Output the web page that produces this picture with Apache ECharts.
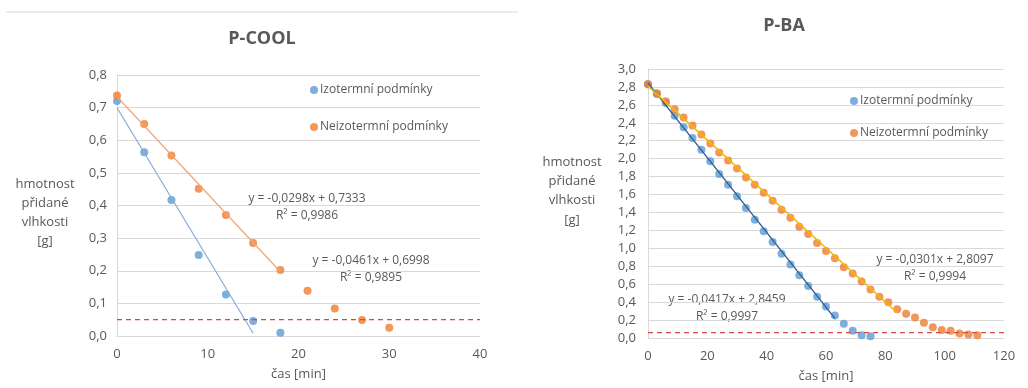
<!DOCTYPE html>
<html>
<head>
<meta charset="utf-8">
<script src="https://cdn.jsdelivr.net/npm/echarts@6/dist/echarts.min.js"></script>
<style>
  html, body { margin: 0; padding: 0; background: #fff; }
  #chart { width: 1028px; height: 388px; }
</style>
</head>
<body>
<div id="chart"></div>
<script>
const SERIES_NAMES = ['Izotermní podmínky', 'Neizotermní podmínky'];

// P-COOL
const coolTime = [0, 3, 6, 9, 12, 15, 18, 21, 24, 27, 30];
const coolIzo = [0.72, 0.563, 0.417, 0.248, 0.127, 0.046, 0.01];
const coolNeizo = [0.737, 0.65, 0.553, 0.451, 0.371, 0.285, 0.202, 0.139, 0.084, 0.049, 0.025];
const coolTrendIzo = { slope: -0.0461, intercept: 0.6998, from: 0, to: 15, label: 'y = -0,0461x + 0,6998', r2: 'R² = 0,9895' };
const coolTrendNeizo = { slope: -0.0298, intercept: 0.7333, from: 0, to: 18, label: 'y = -0,0298x + 0,7333', r2: 'R² = 0,9986' };
const coolLimit = 0.05;
const coolXMax = 40;

// P-BA
const baTime = [0, 3, 6, 9, 12, 15, 18, 21, 24, 27, 30, 33, 36, 39, 42, 45, 48, 51, 54, 57, 60,
  63, 66, 69, 72, 75, 78, 81, 84, 87, 90, 93, 96, 99, 102, 105, 108, 111];
const baIzo = [2.83, 2.72, 2.62, 2.48, 2.35, 2.23, 2.10, 1.97, 1.83, 1.71, 1.58, 1.45, 1.32, 1.19,
  1.07, 0.94, 0.82, 0.70, 0.58, 0.46, 0.35, 0.25, 0.16, 0.08, 0.03, 0.02];
const baNeizo = [2.83, 2.73, 2.64, 2.55, 2.46, 2.37, 2.27, 2.17, 2.07, 1.98, 1.89, 1.79, 1.71, 1.62,
  1.53, 1.43, 1.34, 1.24, 1.16, 1.06, 0.97, 0.89, 0.79, 0.72, 0.63, 0.54, 0.46, 0.40, 0.32, 0.27,
  0.23, 0.17, 0.12, 0.09, 0.08, 0.05, 0.04, 0.03];
const baTrendIzo = { slope: -0.0417, intercept: 2.8459, from: 0, to: 63, label: 'y = -0,0417x + 2,8459', r2: 'R² = 0,9997' };
const baTrendNeizo = { slope: -0.0301, intercept: 2.8097, from: 0, to: 84, label: 'y = -0,0301x + 2,8097', r2: 'R² = 0,9994' };
const baLimit = 0.06;
const baXMax = 120;

const yName = ['hmotnost', 'přidané', 'vlhkosti', '[g]'];
const xName = 'čas [min]';

const BLUE = '#5b9bd5';
const ORANGE = '#ed7d31';
const TEXT = '#595959';
const GRID = '#d9d9d9';
const FONT = '"Open Sans", "Noto Sans", sans-serif';

const pairs = (xs, ys) => ys.map((y, i) => [xs[i], y]);
const trend = (t) => [[t.from, t.intercept + t.slope * t.from], [t.to, t.intercept + t.slope * t.to]];
const comma = (d) => (v) => v.toFixed(d).replace('.', ',');

function axes(idx, max, interval, yMax, yInt, yMargin) {
  return {
    x: {
      type: 'value', gridIndex: idx, min: 0, max, interval,
      axisLine: { show: true, onZero: false, lineStyle: { color: GRID } },
      axisTick: { show: false },
      splitLine: { show: false },
      axisLabel: { color: TEXT, fontSize: 13, fontFamily: FONT, margin: 12 },
      name: xName, nameLocation: 'middle', nameGap: 32,
      nameTextStyle: { color: TEXT, fontSize: 13, fontFamily: FONT },
    },
    y: {
      type: 'value', gridIndex: idx, min: 0, max: yMax, interval: yInt,
      axisLine: { show: true, lineStyle: { color: GRID } },
      axisTick: { show: false },
      splitLine: { show: true, lineStyle: { color: GRID } },
      axisLabel: { color: TEXT, fontSize: 13, fontFamily: FONT, formatter: comma(1), margin: yMargin },
    },
  };
}

const a0 = axes(0, coolXMax, 10, 0.8, 0.1, 10);
const a1 = axes(1, baXMax, 20, 3.0, 0.2, 12);

function scatter(name, data, color, idx, size) {
  return {
    type: 'scatter', name, data, xAxisIndex: idx, yAxisIndex: idx,
    symbolSize: size, itemStyle: { color }, z: 3,
  };
}

function line(data, color, idx, width, dash) {
  return {
    type: 'line', data, xAxisIndex: idx, yAxisIndex: idx, symbol: 'none',
    lineStyle: { color, width, type: dash || 'solid' }, silent: true, z: 4,
  };
}

function eq(t, cx, cy) {
  return [
    { type: 'text', x: cx, y: cy, style: { text: t.label, fill: TEXT, font: `12px ${FONT}`, align: 'center', verticalAlign: 'middle' } },
    { type: 'text', x: cx, y: cy + 17, style: { text: t.r2, fill: TEXT, font: `12px ${FONT}`, align: 'center', verticalAlign: 'middle' } },
  ];
}

function yLabel(cx, cy0, lh) {
  return yName.map((t, i) => ({
    type: 'text', x: cx, y: cy0 + i * lh,
    style: { text: t, fill: TEXT, font: `13px ${FONT}`, align: 'center', verticalAlign: 'middle' },
  }));
}

const chart = echarts.init(document.getElementById('chart'));
chart.setOption({
  animation: false,
  title: [
    { text: 'P-COOL', left: 257, top: 25, textAlign: 'center', textStyle: { color: TEXT, fontSize: 18, fontWeight: 'bold', fontFamily: FONT } },
    { text: 'P-BA', left: 779, top: 12, textAlign: 'center', textStyle: { color: TEXT, fontSize: 18, fontWeight: 'bold', fontFamily: FONT } },
  ],
  legend: [
    {
      data: SERIES_NAMES, orient: 'vertical', left: 305, top: 79, itemGap: 25,
      icon: 'circle', itemWidth: 8, itemHeight: 8, selectedMode: false,
      textStyle: { color: TEXT, fontSize: 12, fontFamily: FONT, padding: [0, 0, 0, -3] },
    },
    {
      data: SERIES_NAMES, orient: 'vertical', left: 845, top: 90, itemGap: 20,
      icon: 'circle', itemWidth: 8, itemHeight: 8, selectedMode: false,
      textStyle: { color: TEXT, fontSize: 12, fontFamily: FONT, padding: [0, 0, 0, -3] },
    },
  ],
  grid: [
    { left: 117, right: 548, top: 75, bottom: 52 },
    { left: 648, right: 24, top: 69, bottom: 45 },
  ],
  xAxis: [a0.x, a1.x],
  yAxis: [a0.y, a1.y],
  series: [
    scatter(SERIES_NAMES[0], pairs(coolTime, coolIzo), BLUE, 0, 8),
    scatter(SERIES_NAMES[1], pairs(coolTime, coolNeizo), ORANGE, 0, 8),
    line(trend(coolTrendIzo), '#86abd9', 0, 1.2),
    line(trend(coolTrendNeizo), '#f0a577', 0, 1.2),
    line([[0, coolLimit], [coolXMax, coolLimit]], '#d24a45', 0, 1.3, [5, 4]),
    scatter(SERIES_NAMES[0], pairs(baTime, baIzo), BLUE, 1, 8),
    scatter(SERIES_NAMES[1], pairs(baTime, baNeizo), ORANGE, 1, 8),
    line(trend(baTrendIzo), '#2f5f93', 1, 1.4),
    line(trend(baTrendNeizo), '#f5b800', 1, 1.6),
    line([[0, baLimit], [baXMax, baLimit]], '#d24a45', 1, 1.3, [5, 4]),
  ],
  graphic: [
    { type: 'line', shape: { x1: 6, y1: 12, x2: 518, y2: 12 }, style: { stroke: '#d9d9d9', lineWidth: 1 } },
    ...yLabel(45, 184, 19),
    ...yLabel(572, 162, 19.3),
    ...eq(coolTrendNeizo, 307, 199),
    ...eq(coolTrendIzo, 371, 261),
    ...eq(baTrendIzo, 727, 300),
    ...eq(baTrendNeizo, 935, 260),
  ],
});
</script>
</body>
</html>
